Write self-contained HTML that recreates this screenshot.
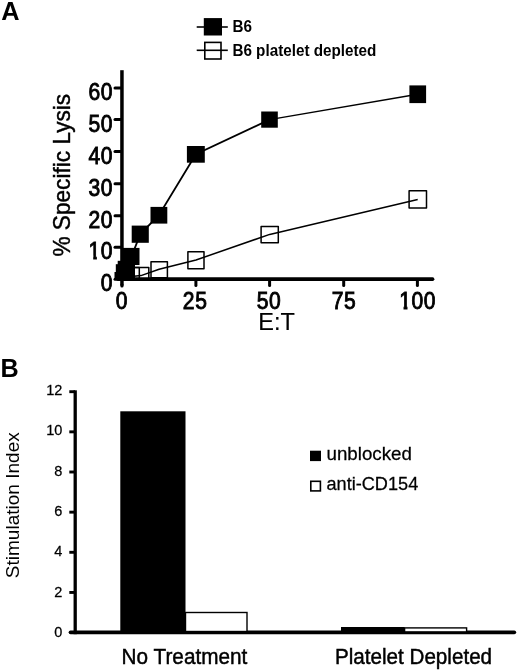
<!DOCTYPE html>
<html><head><meta charset="utf-8"><title>Figure</title>
<style>
html,body{margin:0;padding:0;background:#fff;}
body{width:520px;height:671px;overflow:hidden;}
svg{display:block;font-family:"Liberation Sans",Arial,sans-serif;}
</style></head><body>
<svg width="520" height="671" viewBox="0 0 520 671">
<rect width="520" height="671" fill="#fff"/>
<!-- Panel A -->
<text x="1.2" y="20.4" font-size="25.3" font-weight="bold">A</text>
<!-- legend A -->
<g stroke="#000" stroke-width="1.6">
<line x1="196.7" y1="27" x2="227.8" y2="27"/>
<rect x="204.6" y="18.9" width="16.6" height="15.8" fill="#000"/>
<rect x="204.8" y="42.4" width="16.2" height="16.6" fill="#fff"/>
<line x1="196.7" y1="50.3" x2="227.8" y2="50.3"/>
</g>
<text transform="translate(232.4,32.4) scale(0.925,1)" font-size="16.5" font-weight="bold">B6</text>
<text transform="translate(232.4,55.6) scale(0.925,1)" font-size="16.5" font-weight="bold">B6 platelet depleted</text>
<!-- open series -->
<g stroke="#000" stroke-width="1.5" fill="none" stroke-linejoin="round">
<polyline points="122,276.8 131.5,276.5 141,275.6 159.1,269.3 196,260 269.7,234.4 417.7,199.4"/>
<rect x="124.3" y="267.5" width="15" height="12"/>
<rect x="134.2" y="267.5" width="14.6" height="12"/>
<rect x="151" y="261.7" width="16.4" height="16"/>
<rect x="187.9" y="251.7" width="16.1" height="17"/>
<rect x="261.1" y="226.6" width="17.2" height="16.1"/>
<rect x="409.1" y="190.8" width="17.4" height="17.3"/>
</g>
<!-- axes A -->
<g stroke="#000" fill="none">
<line x1="121.95" y1="70.2" x2="121.95" y2="285.5" stroke-width="3.5"/>
<line x1="121.95" y1="285" x2="121.95" y2="286" stroke-width="3.2" stroke-linecap="round"/>
<line x1="118" y1="279.15" x2="432.6" y2="279.15" stroke-width="3.6" stroke-linecap="round"/>
<g stroke-width="3" stroke-linecap="round">
<line x1="115" y1="87.9" x2="121" y2="87.9"/>
<line x1="115" y1="119.4" x2="121" y2="119.4"/>
<line x1="115" y1="151.4" x2="121" y2="151.4"/>
<line x1="115" y1="183.7" x2="121" y2="183.7"/>
<line x1="115" y1="215.7" x2="121" y2="215.7"/>
<line x1="115" y1="247.2" x2="121" y2="247.2"/>
<line x1="115" y1="279.3" x2="121" y2="279.3"/>
<line x1="195.9" y1="279.5" x2="195.9" y2="285.6"/>
<line x1="269.6" y1="279.5" x2="269.6" y2="285.6"/>
<line x1="343.7" y1="279.5" x2="343.7" y2="285.6"/>
<line x1="417.4" y1="279.5" x2="417.4" y2="285.6"/>
</g>
</g>
<g font-size="23.4" text-anchor="end" stroke="#000" stroke-width="0.9" letter-spacing="0.7">
<text transform="translate(113.2,100) scale(0.9,1)">60</text>
<text transform="translate(113.2,131.5) scale(0.9,1)">50</text>
<text transform="translate(113.2,163.5) scale(0.9,1)">40</text>
<text transform="translate(113.2,195.8) scale(0.9,1)">30</text>
<text transform="translate(113.2,227.8) scale(0.9,1)">20</text>
<text transform="translate(113.2,259.3) scale(0.9,1)">10</text>
<text transform="translate(113.2,291.4) scale(0.9,1)">0</text>
</g>
<g font-size="23.4" text-anchor="middle" stroke="#000" stroke-width="0.9" letter-spacing="0.7">
<text transform="translate(121.9,308.7) scale(0.9,1)">0</text>
<text transform="translate(195.2,308.7) scale(0.9,1)">25</text>
<text transform="translate(269.0,308.7) scale(0.9,1)">50</text>
<text transform="translate(344,308.7) scale(0.9,1)">75</text>
<text transform="translate(417.7,308.7) scale(0.9,1)">100</text>
</g>
<g fill="#fff"><rect x="398.5" y="305.2" width="5" height="5.3"/><rect x="407.5" y="305.2" width="4.5" height="5.3"/><rect x="87.5" y="255.6" width="5.7" height="5.5"/><rect x="96.9" y="255.6" width="3.9" height="5.5"/></g>
<text x="276.6" y="330.1" font-size="23.5" text-anchor="middle" stroke="#000" stroke-width="0.15">E:T</text>
<text transform="translate(69.9,256.6) rotate(-90) scale(0.968,1)" font-size="23.4" stroke="#000" stroke-width="0.4">% Specific Lysis</text>
<!-- filled series -->
<g stroke="#000" stroke-width="1.8" fill="none">
<polyline points="122,277 126,269 131.5,256.5 140.3,234.1 158.9,215.2 195.9,154.3 269.5,119.6"/>
<polyline points="269.5,119.6 417.7,94.2" stroke-width="1.4"/>
</g>
<g fill="#000">
<rect x="114.5" y="272" width="17" height="8"/>
<rect x="115.8" y="264.2" width="17" height="15"/>
<rect x="117.7" y="260.8" width="17.3" height="18"/>
<rect x="122" y="247.9" width="17.5" height="17.1"/>
<rect x="131.7" y="225.6" width="17.1" height="17.2"/>
<rect x="150.5" y="206.9" width="16.8" height="16.7"/>
<rect x="186.9" y="146" width="17.9" height="16.7"/>
<rect x="261.2" y="111.5" width="16.6" height="16.2"/>
<rect x="409.4" y="85.4" width="16.7" height="17.7"/>
</g>

<!-- Panel B -->
<text x="0.5" y="376.9" font-size="25.2" font-weight="bold">B</text>
<g stroke="#000" fill="none">
<line x1="75.2" y1="390.3" x2="75.2" y2="634.2" stroke-width="3.3"/>
<line x1="70.5" y1="632.35" x2="514.3" y2="632.35" stroke-width="3.7" stroke-linecap="round"/>
<g stroke-width="2.9">
<line x1="69.3" y1="391.7" x2="75" y2="391.7"/>
<line x1="69.3" y1="431.85" x2="75" y2="431.85"/>
<line x1="69.3" y1="472" x2="75" y2="472"/>
<line x1="69.3" y1="512.15" x2="75" y2="512.15"/>
<line x1="69.3" y1="552.3" x2="75" y2="552.3"/>
<line x1="69.3" y1="592.45" x2="75" y2="592.45"/>
</g>
</g>
<g font-size="15.3" text-anchor="end" stroke="#000" stroke-width="0.25">
<text transform="translate(62.3,395.0) scale(0.95,1)">12</text>
<text transform="translate(62.3,435.45) scale(0.95,1)">10</text>
<text transform="translate(62.3,475.8) scale(0.95,1)">8</text>
<text transform="translate(62.3,516.1) scale(0.95,1)">6</text>
<text transform="translate(62.3,556.4) scale(0.95,1)">4</text>
<text transform="translate(62.3,596.75) scale(0.95,1)">2</text>
<text transform="translate(62.3,636.9) scale(0.95,1)">0</text>
</g>
<text transform="translate(19.3,578.2) rotate(-90)" font-size="19.05">Stimulation Index</text>
<rect x="120.3" y="411.3" width="65.2" height="220" fill="#000"/>
<rect x="185.5" y="612.5" width="61.5" height="19" fill="#fff" stroke="#000" stroke-width="1.4"/>
<rect x="341" y="627" width="63.6" height="5" fill="#000"/>
<rect x="404.6" y="627.9" width="62" height="4" fill="#fff" stroke="#000" stroke-width="1.4"/>
<text transform="translate(121.6,663.6) scale(0.97,1)" font-size="21.4" stroke="#000" stroke-width="0.45">No Treatment</text>
<text transform="translate(334.9,663.6) scale(0.965,1)" font-size="21.4" stroke="#000" stroke-width="0.45">Platelet Depleted</text>
<rect x="310" y="450.7" width="11" height="10.4" fill="#000"/>
<rect x="310.8" y="481.3" width="9.6" height="9.6" fill="#fff" stroke="#000" stroke-width="1.6"/>
<text transform="translate(326.5,460.2) scale(1.03,1)" font-size="18.2" stroke="#000" stroke-width="0.25">unblocked</text>
<text transform="translate(326.5,489.8) scale(1.008,1)" font-size="18" stroke="#000" stroke-width="0.25">anti-CD154</text>
</svg>
</body></html>
